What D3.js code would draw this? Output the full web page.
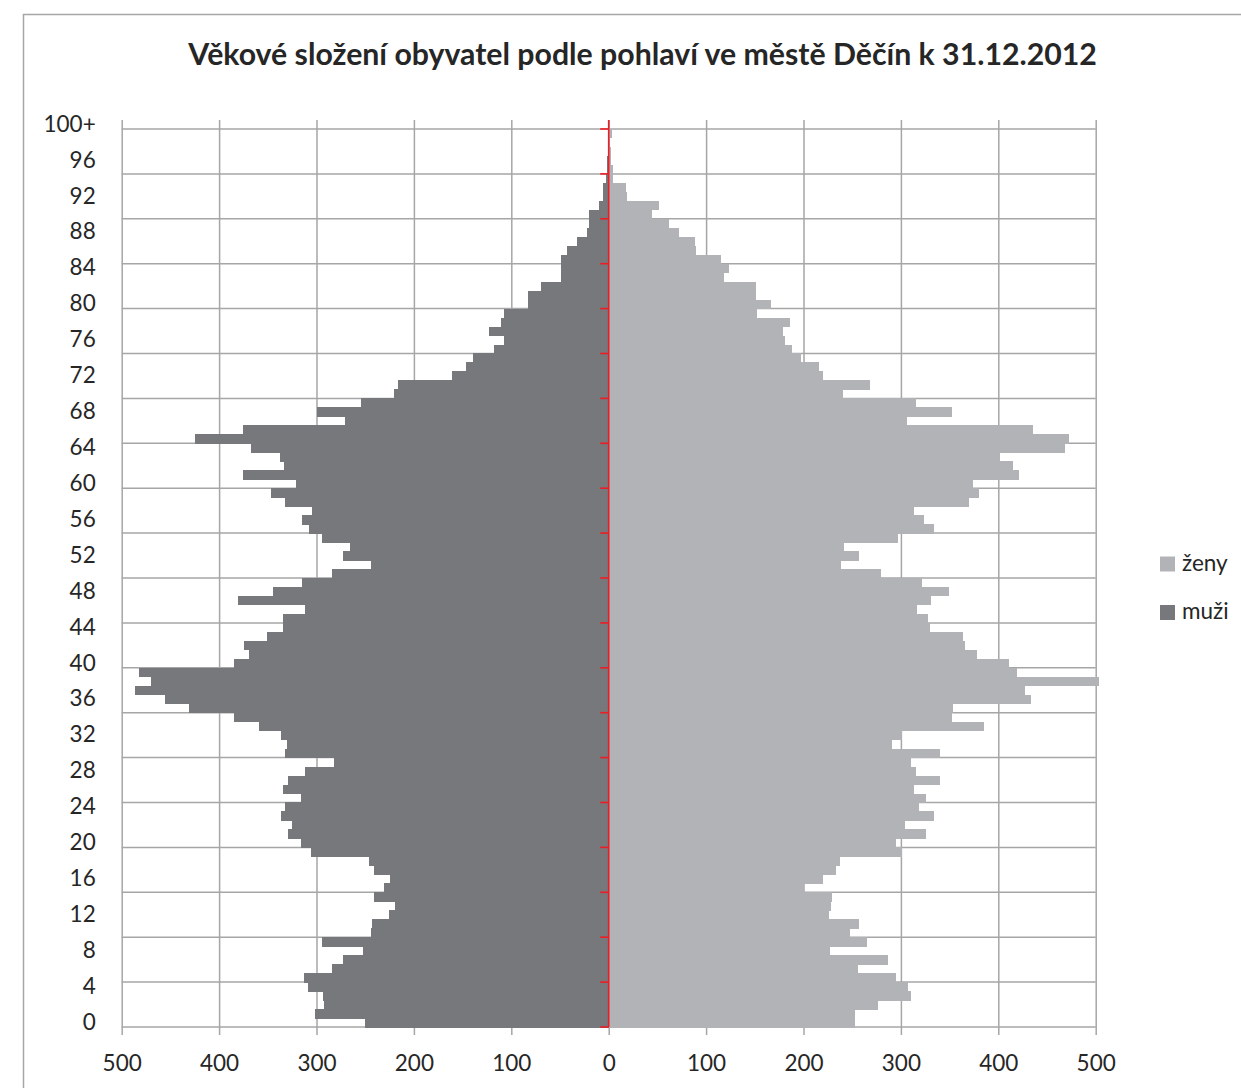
<!DOCTYPE html>
<html>
<head>
<meta charset="utf-8">
<script src="https://cdn.jsdelivr.net/npm/d3@7"></script>
<style>
body { margin: 0; background: #fff; }
svg { display: block; font-family: Lato, "Open Sans", sans-serif; }
</style>
</head>
<body>
<svg id="svg" width="1241" height="1088"></svg>
<script>
// age categories 0..99 and 100+
var ages = d3.range(0, 100).map(String).concat(['100+']);

// muži, by age 0 .. 100+
var men = [
    250, 302, 292, 293, 309, 313, 284, 273, 252, 294,
    244, 243, 226, 219, 241, 231, 225, 241, 246, 306,
    316, 329, 325, 336, 332, 316, 334, 329, 312, 282,
    332, 330, 336, 359, 385, 431, 456, 486, 470, 482,
    385, 369, 374, 351, 334, 334, 312, 381, 345, 315,
    284, 244, 273, 266, 294, 308, 315, 305, 332, 347,
    321, 375, 333, 337, 367, 425, 375, 271, 299, 254,
    220, 216, 161, 146, 139, 118, 107, 123, 111, 107,
    83, 83, 69, 49, 49, 49, 43, 33, 22, 20,
    20, 10, 6, 6, 3, 2, 2, 1, 0, 0,
    0
];

// ženy, by age 0 .. 100+
var women = [
    253, 253, 276, 310, 307, 295, 256, 287, 227, 265,
    248, 257, 226, 228, 229, 201, 220, 233, 237, 301,
    295, 326, 304, 334, 319, 326, 313, 340, 316, 310,
    340, 291, 301, 385, 352, 353, 434, 427, 503, 419,
    411, 378, 366, 364, 330, 328, 317, 331, 349, 322,
    280, 238, 257, 242, 297, 334, 324, 313, 370, 380,
    374, 421, 415, 402, 468, 473, 436, 306, 352, 316,
    241, 268, 220, 216, 197, 188, 181, 179, 186, 152,
    167, 151, 151, 118, 123, 115, 90, 89, 72, 62,
    44, 52, 19, 18, 4, 4, 2, 2, 1, 3,
    0
];

var xTicks = [-500, -400, -300, -200, -100, 0, 100, 200, 300, 400, 500];
var ageLabels = ages.filter((d, i) => i % 4 == 0);
var gridAges = ages.filter((d, i) => i % 5 == 0);
var legendItems = [{name: 'ženy', color: '#b2b3b7'}, {name: 'muži', color: '#77787c'}];
var title = 'Věkové složení obyvatel podle pohlaví ve městě Děčín k 31.12.2012';

function drawPyramid() {
    var svg = d3.select('#svg');
    var pTop = 120, pBottom = 1027, pLeft = 121.7, pRight = 1095.7;
    var grid = '#a6a6a6', ink = '#262626';

    var scX = d3.scaleLinear().domain([-500, 500]).range([pLeft, pRight]);
    var scY = d3.scaleBand().domain(ages).range([pBottom, pTop]).padding(0);
    var bw = scY.bandwidth();

    // chart border (runs off the right and bottom edge)
    svg.append('rect')
        .attr('x', 23.5).attr('y', 14.5)
        .attr('width', 1300).attr('height', 1200)
        .attr('fill', 'none').attr('stroke', grid).attr('stroke-width', 1.5);

    // vertical grid + bottom labels
    svg.append('g')
        .attr('transform', 'translate(0,1035)')
        .call(d3.axisBottom(scX).tickValues(xTicks).tickSize(-(1035 - pTop)).tickPadding(20).tickFormat(d => Math.abs(d)))
        .call(g => g.select('.domain').remove())
        .call(g => g.selectAll('line').attr('stroke', grid).attr('stroke-width', 1.5))
        .call(g => g.attr('font-family', null).attr('font-size', 22.5))
        .call(g => g.selectAll('text').attr('fill', ink));

    // horizontal grid every 5 ages
    svg.append('g')
        .selectAll('line')
        .data(gridAges)
        .enter()
        .append('line')
        .attr('x1', pLeft).attr('x2', pRight)
        .attr('y1', d => scY(d) + bw).attr('y2', d => scY(d) + bw)
        .attr('stroke', grid).attr('stroke-width', 1.5);

    // bars
    svg.append('g')
        .attr('shape-rendering', 'crispEdges')
        .selectAll('rect')
        .data(men)
        .enter()
        .append('rect')
        .attr('x', d => scX(-d))
        .attr('width', d => scX(0) - scX(-d))
        .attr('y', (d, i) => scY(ages[i]))
        .attr('height', bw + 0.5)
        .attr('fill', '#77787c');

    svg.append('g')
        .attr('shape-rendering', 'crispEdges')
        .selectAll('rect')
        .data(women)
        .enter()
        .append('rect')
        .attr('x', scX(0))
        .attr('width', d => scX(d) - scX(0))
        .attr('y', (d, i) => scY(ages[i]))
        .attr('height', bw + 0.5)
        .attr('fill', '#b2b3b7');

    // red category axis with ticks
    svg.append('line')
        .attr('x1', scX(0)).attr('x2', scX(0))
        .attr('y1', pTop).attr('y2', pBottom)
        .attr('stroke', '#ee1c25').attr('stroke-width', 1.6);

    svg.append('g')
        .selectAll('line')
        .data(gridAges)
        .enter()
        .append('line')
        .attr('x1', scX(0) - 8.5).attr('x2', scX(0))
        .attr('y1', d => scY(d) + bw).attr('y2', d => scY(d) + bw)
        .attr('stroke', '#ee1c25').attr('stroke-width', 1.6);

    // age labels
    svg.append('g')
        .attr('transform', 'translate(' + pLeft + ',0)')
        .call(d3.axisLeft(scY).tickValues(ageLabels).tickSize(0).tickPadding(26))
        .call(g => g.select('.domain').remove())
        .call(g => g.attr('font-family', null).attr('font-size', 22.5))
        .call(g => g.selectAll('text').attr('fill', ink));

    // title, fitted to the reference width
    var t = svg.append('text')
        .attr('x', 642.5).attr('y', 65)
        .attr('text-anchor', 'middle')
        .attr('font-weight', 'bold')
        .attr('font-size', 27)
        .attr('fill', ink)
        .text(title);
    var tw = t.node().getComputedTextLength();
    t.attr('font-size', 27 * 909 / tw);

    // legend
    var lg = svg.append('g')
        .selectAll('g')
        .data(legendItems)
        .enter()
        .append('g')
        .attr('transform', (d, i) => 'translate(1160,' + (556.5 + i * 48.5) + ')');
    lg.append('rect').attr('width', 15).attr('height', 15).attr('fill', d => d.color);
    lg.append('text').attr('x', 22).attr('y', 14).attr('font-size', 22.5).attr('fill', ink).text(d => d.name);
}

drawPyramid();
</script>
</body>
</html>
